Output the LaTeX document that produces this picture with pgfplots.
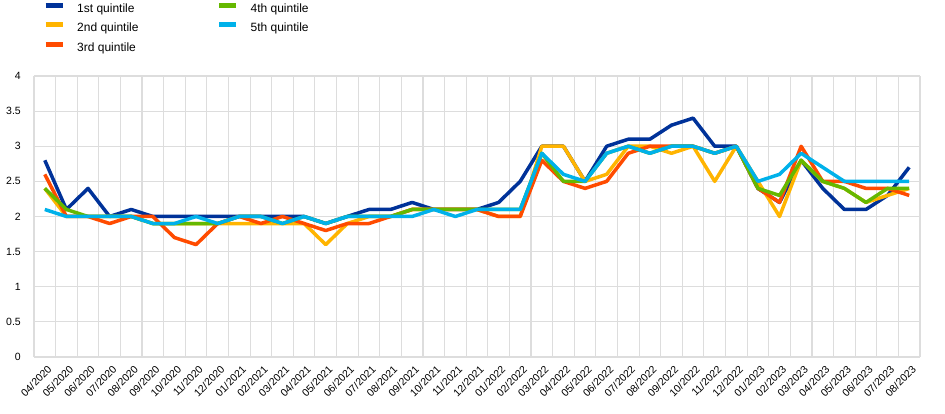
\documentclass[border=0pt]{standalone}
\usepackage{pgfplots}
\pgfplotsset{compat=1.18}
\usepackage{fontspec}
\setmainfont{Liberation Sans}
\definecolor{q1}{HTML}{003299}
\definecolor{q2}{HTML}{FFB400}
\definecolor{q3}{HTML}{FF4B00}
\definecolor{q4}{HTML}{65B800}
\definecolor{q5}{HTML}{00B1EA}
\definecolor{gridc}{HTML}{DDDDDD}
\begin{document}
\begin{tikzpicture}
\path[use as bounding box] (-34pt,-57pt) rectangle (911pt,357pt);
\begin{axis}[
  at={(0pt,0pt)}, anchor=south west,
  scale only axis, width=886pt, height=281pt,
  xmin=-0.5, xmax=40.5, ymin=0, ymax=4,
  axis line style={draw=none},
  ytick={0,0.5,...,4},
  xtick={0,...,40},
  xticklabels={04/2020,05/2020,06/2020,07/2020,08/2020,09/2020,10/2020,11/2020,12/2020,
    01/2021,02/2021,03/2021,04/2021,05/2021,06/2021,07/2021,08/2021,09/2021,10/2021,11/2021,12/2021,
    01/2022,02/2022,03/2022,04/2022,05/2022,06/2022,07/2022,08/2022,09/2022,10/2022,11/2022,12/2022,
    01/2023,02/2023,03/2023,04/2023,05/2023,06/2023,07/2023,08/2023},
  minor xtick={-0.5,0.5,...,40.5},
  xmajorgrids=false, xminorgrids=true, ymajorgrids=true,
  grid style={gridc, line width=1.1pt},
  minor grid style={gridc, line width=1.1pt},
  major tick length=0pt, minor tick length=0pt,
  tick style={draw=none},
  /pgf/number format/assume math mode=true,
  yticklabel style={font=\fontsize{10.5}{12}\selectfont, inner sep=0pt, xshift=-13pt},
  xticklabel style={font=\fontsize{10.5}{12}\selectfont, rotate=45, anchor=north east, inner sep=0pt, yshift=-7pt, xshift=-4pt},
  legend style={at={(0,1)}, anchor=north west, xshift=9pt, yshift=73.5pt,
    draw=none, fill=none, inner sep=0pt, font=\fontsize{12}{14}\selectfont,
    row sep=8.5pt, nodes={inner sep=0pt},
    /tikz/every odd column/.append style={column sep=12pt},
    /tikz/every even column/.append style={column sep=78pt}},
  legend columns=3, transpose legend, legend cell align=left,
  legend image code/.code={\draw[#1, line width=5pt, line cap=butt] (0pt,0.35em) -- (17pt,0.35em);},
  every axis plot/.append style={line width=3.5pt, line join=round, mark=none},
]
\addplot[q1] table {
0 2.8
1 2.1
2 2.4
3 2.0
4 2.1
5 2.0
6 2.0
7 2.0
8 2.0
9 2.0
10 2.0
11 2.0
12 2.0
13 1.9
14 2.0
15 2.1
16 2.1
17 2.2
18 2.1
19 2.1
20 2.1
21 2.2
22 2.5
23 3.0
24 3.0
25 2.5
26 3.0
27 3.1
28 3.1
29 3.3
30 3.4
31 3.0
32 3.0
33 2.4
34 2.2
35 2.8
36 2.4
37 2.1
38 2.1
39 2.3
40 2.7
};
\addlegendentry{1st quintile}
\addplot[q2] table {
0 2.4
1 2.0
2 2.0
3 2.0
4 2.0
5 1.9
6 1.9
7 1.9
8 1.9
9 1.9
10 1.9
11 1.9
12 1.9
13 1.6
14 1.9
15 2.0
16 2.0
17 2.1
18 2.1
19 2.1
20 2.1
21 2.0
22 2.0
23 3.0
24 3.0
25 2.5
26 2.6
27 3.0
28 3.0
29 2.9
30 3.0
31 2.5
32 3.0
33 2.5
34 2.0
35 2.8
36 2.5
37 2.4
38 2.2
39 2.3
40 2.4
};
\addlegendentry{2nd quintile}
\addplot[q3] table {
0 2.6
1 2.0
2 2.0
3 1.9
4 2.0
5 2.0
6 1.7
7 1.6
8 1.9
9 2.0
10 1.9
11 2.0
12 1.9
13 1.8
14 1.9
15 1.9
16 2.0
17 2.1
18 2.1
19 2.1
20 2.1
21 2.0
22 2.0
23 2.8
24 2.5
25 2.4
26 2.5
27 2.9
28 3.0
29 3.0
30 3.0
31 2.9
32 3.0
33 2.4
34 2.2
35 3.0
36 2.5
37 2.5
38 2.4
39 2.4
40 2.3
};
\addlegendentry{3rd quintile}
\addplot[q4] table {
0 2.4
1 2.1
2 2.0
3 2.0
4 2.0
5 1.9
6 1.9
7 1.9
8 1.9
9 2.0
10 2.0
11 1.9
12 2.0
13 1.9
14 2.0
15 2.0
16 2.0
17 2.1
18 2.1
19 2.1
20 2.1
21 2.1
22 2.1
23 2.9
24 2.5
25 2.5
26 2.9
27 3.0
28 2.9
29 3.0
30 3.0
31 2.9
32 3.0
33 2.4
34 2.3
35 2.8
36 2.5
37 2.4
38 2.2
39 2.4
40 2.4
};
\addlegendentry{4th quintile}
\addplot[q5] table {
0 2.1
1 2.0
2 2.0
3 2.0
4 2.0
5 1.9
6 1.9
7 2.0
8 1.9
9 2.0
10 2.0
11 1.9
12 2.0
13 1.9
14 2.0
15 2.0
16 2.0
17 2.0
18 2.1
19 2.0
20 2.1
21 2.1
22 2.1
23 2.9
24 2.6
25 2.5
26 2.9
27 3.0
28 2.9
29 3.0
30 3.0
31 2.9
32 3.0
33 2.5
34 2.6
35 2.9
36 2.7
37 2.5
38 2.5
39 2.5
40 2.5
};
\addlegendentry{5th quintile}
\end{axis}
\end{tikzpicture}
\end{document}
